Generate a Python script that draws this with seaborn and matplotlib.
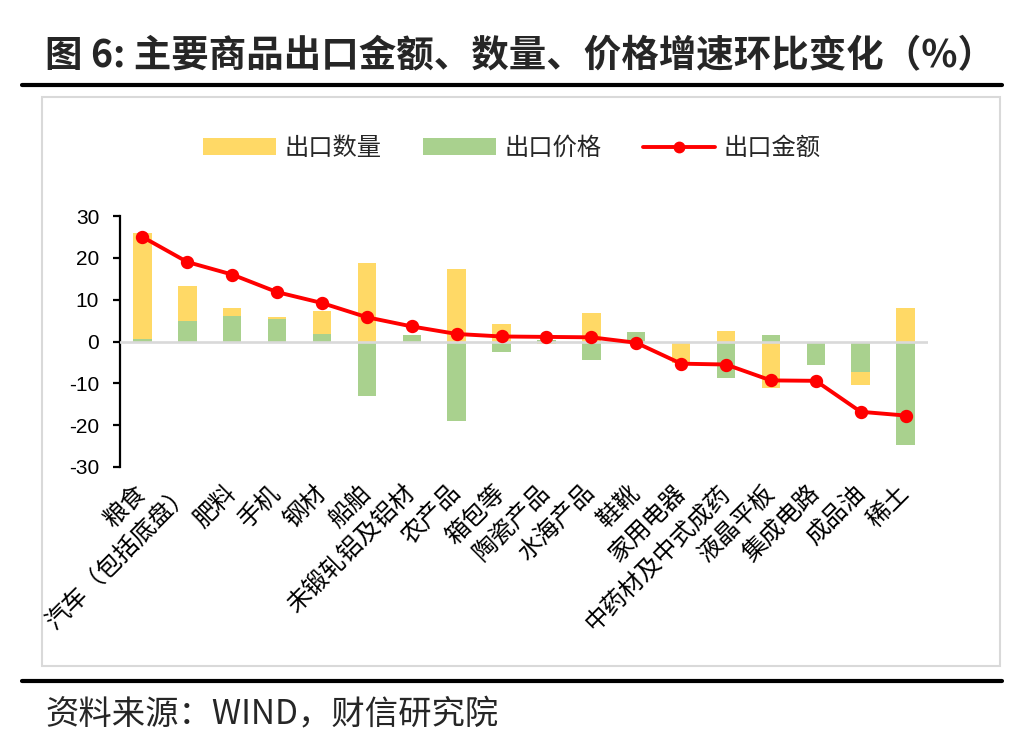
import matplotlib
matplotlib.use("Agg")
import matplotlib.pyplot as plt
import numpy as np
import seaborn as sns
from matplotlib.lines import Line2D
from matplotlib.patches import Patch, Rectangle

sns.set_theme(style="white")
plt.rcParams["font.family"] = ["Noto Sans CJK SC", "DejaVu Sans"]

# ---- data ----
categories = ["粮食", "汽车（包括底盘）", "肥料", "手机", "钢材", "船舶", "未锻轧铝及铝材",
              "农产品", "箱包等", "陶瓷产品", "水海产品", "鞋靴", "家用电器",
              "中药材及中式成药", "液晶平板", "集成电路", "成品油", "稀土"]
export_qty = [25.4, 8.4, 1.8, 0.5, 5.5, 18.8, 0.0, 17.4, 4.2, -0.7, 6.8, 0.0,
              -5.2, 2.6, -11.2, 0.0, -3.1, 8.0]
export_price = [0.6, 4.8, 6.2, 5.3, 1.9, -13.0, 1.6, -19.0, -2.4, 0.3, -4.5, 2.2,
                0.0, -8.8, 1.5, -5.7, -7.2, -24.8]
export_amount = [25.0, 19.0, 16.0, 11.8, 9.2, 5.8, 3.6, 1.8, 1.2, 1.1, 1.0, -0.3,
                 -5.3, -5.5, -9.3, -9.4, -16.8, -17.7]
yticks = [-30, -20, -10, 0, 10, 20, 30]

YELLOW = "#FFD966"
GREEN = "#A9D18E"
RED = "#FF0000"

# Excel-style stacking: price sits on the axis, quantity stacks on it when signs agree
q = np.array(export_qty)
p = np.array(export_price)
qty_top = np.where(q * p > 0, q + p, q)

fig = plt.figure(figsize=(10.12, 7.44), dpi=100)
ax = fig.add_axes([120 / 1012, 1 - 467 / 744, 808 / 1012, 251 / 744])

sns.barplot(x=categories, y=qty_top, order=categories, color=YELLOW, saturation=1,
            width=0.41, linewidth=0, ax=ax, zorder=2)
sns.barplot(x=categories, y=p, order=categories, color=GREEN, saturation=1,
            width=0.41, linewidth=0, ax=ax, zorder=2)
ax.axhline(0, color="#D9D9D9", lw=1.9, zorder=2.5)
sns.pointplot(x=categories, y=export_amount, order=categories, color=RED,
              markers="o", markersize=7.5, linewidth=2.8, errorbar=None, ax=ax)
for ln in ax.lines[1:]:
    ln.set_zorder(4)

ax.set_ylim(-30, 30)
ax.set_xlim(-0.5, len(categories) - 0.5)
ax.set_yticks(yticks)
ax.set_yticklabels([str(v) for v in yticks], fontsize=15,
                   family=["Liberation Sans", "DejaVu Sans"])
ax.set_xlabel("")
ax.set_ylabel("")
for s in ["top", "right", "bottom"]:
    ax.spines[s].set_visible(False)
ax.spines["left"].set_color("black")
ax.spines["left"].set_linewidth(1.6)
ax.tick_params(axis="y", which="both", left=True, direction="out", length=5, width=1.6,
               pad=10, colors="black")
ax.tick_params(axis="x", bottom=False, pad=10)
ax.set_xticks(range(len(categories)))
ax.set_xticklabels(categories, rotation=45, ha="right", va="center",
                   rotation_mode="anchor", fontsize=17.5, color="black")
ax.set_facecolor("none")

# legend
handles = [Patch(facecolor=YELLOW, edgecolor="none"),
           Patch(facecolor=GREEN, edgecolor="none"),
           Line2D([0], [0], color=RED, lw=2.8, marker="o", markersize=7.5)]
fig.legend(handles, ["出口数量", "出口价格", "出口金额"], loc="center",
           bbox_to_anchor=(512 / 1012, 1 - 148 / 744), ncol=3, frameon=False,
           fontsize=17.5, handlelength=3.0, handleheight=0.65, columnspacing=1.7,
           handletextpad=0.35)

# frame around chart, rules and titles
fig.patches.append(Rectangle((42 / 1012, 1 - 666 / 744), 958 / 1012, 569 / 744,
                             transform=fig.transFigure, fill=False,
                             edgecolor="#D9D9D9", lw=1.5, zorder=0))
fig.add_artist(Line2D([22 / 1012, 1002 / 1012], [1 - 85 / 744] * 2, color="black",
                      lw=3, transform=fig.transFigure))
fig.add_artist(Line2D([22 / 1012, 1002 / 1012], [1 - 681 / 744] * 2, color="black",
                      lw=3, transform=fig.transFigure))
fig.text(45 / 1012, 1 - 56 / 744, "图 6: 主要商品出口金额、数量、价格增速环比变化（%）",
         fontsize=27, fontweight="bold", ha="left", va="center")
fig.text(45 / 1012, 1 - 715 / 744, "资料来源：WIND，财信研究院", fontsize=24,
         style="italic", ha="left", va="center")

fig.savefig("out.png", dpi=100)
